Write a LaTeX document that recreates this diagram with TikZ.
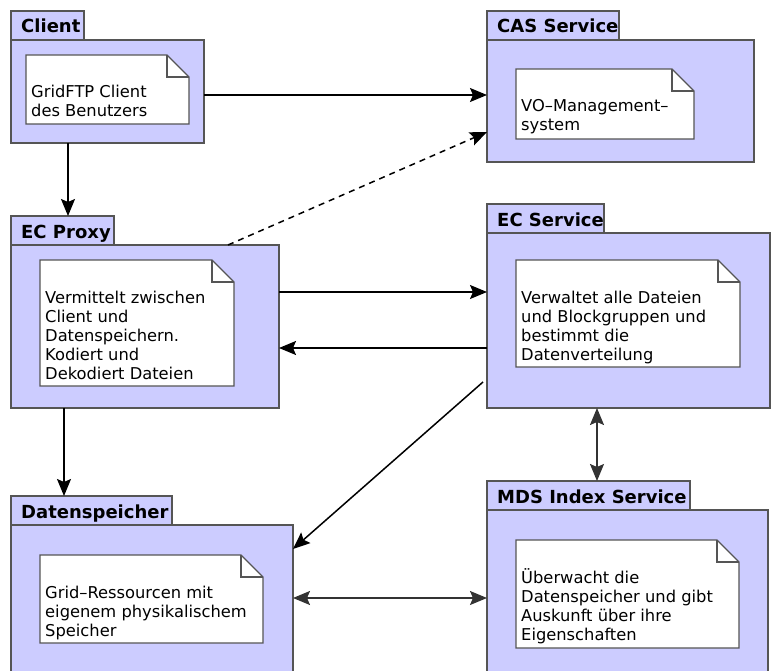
\documentclass[tikz,border=0pt]{standalone}
\usepackage{fontspec}
\setmainfont{DejaVu Sans}
\usetikzlibrary{arrows.meta}

\definecolor{pkgfill}{HTML}{CCCCFF}
\definecolor{edge}{HTML}{555555}

% multi-line note text, baseline on the first line
\newcommand\notelines[1]{{\fontsize{16.3}{19}\selectfont\renewcommand\arraystretch{1}%
  \begin{tabular}[t]{@{}l@{}}#1\end{tabular}}}

% folded-corner outline around a note node
\newcommand\foldnote[1]{%
  \draw[notebox] (#1.north west) -- ([xshift=-22pt]#1.north east)
    -- ([yshift=-22pt]#1.north east) -- (#1.south east) -- (#1.south west) -- cycle;
  \draw[notebox,fill=none] ([xshift=-22pt]#1.north east)
    -- ([xshift=-22pt,yshift=-22pt]#1.north east) -- ([yshift=-22pt]#1.north east);}

\tikzset{
  pkg/.style={draw=edge, fill=pkgfill, line width=1.4pt, inner sep=0pt, outer sep=0pt, anchor=north west},
  notearea/.style={inner sep=0pt, outer sep=0pt, anchor=north west},
  notebox/.style={draw=edge, fill=white, line width=1.3pt},
  pkgtitle/.style={anchor=base west, inner sep=0pt, font=\fontsize{18}{22}\selectfont\bfseries},
  notetext/.style={anchor=base west, inner sep=0pt},
  arr/.style={draw=black, line width=1.5pt, -{Stealth[length=17pt,width=14pt,inset=3pt]}},
  biarr/.style={draw=black!80, line width=1.6pt, {Stealth[length=17pt,width=14pt,inset=3pt]}-{Stealth[length=17pt,width=14pt,inset=3pt]}},
}

\begin{document}
\begin{tikzpicture}[x=1pt,y=-1pt]
\useasboundingbox (0,0) rectangle (771,671);
\clip (0,0) rectangle (771,671);

% ---- packages: tab, body, note ----
% Client
\node[pkg, minimum width=73pt, minimum height=29pt] (clientTab) at (11,11) {};
\node[pkg, minimum width=193pt, minimum height=103pt] (client) at (11,40) {};
\node[notearea, minimum width=163pt, minimum height=69pt] (clientNote) at (26,55) {};
\foldnote{clientNote}
\node[pkgtitle] (clientTitle) at ([xshift=10pt,yshift=-22pt]clientTab.north west) {Client};
\node[notetext] (clientText) at ([xshift=5pt,yshift=-43pt]clientNote.north west)
  {\notelines{GridFTP Client\\des Benutzers}};

% CAS Service
\node[pkg, minimum width=132pt, minimum height=29pt] (casTab) at (487,11) {};
\node[pkg, minimum width=267pt, minimum height=122pt] (cas) at (487,40) {};
\node[notearea, minimum width=178pt, minimum height=70pt] (casNote) at (516,69) {};
\foldnote{casNote}
\node[pkgtitle] (casTitle) at ([xshift=10pt,yshift=-22pt]casTab.north west) {CAS Service};
\node[notetext] (casText) at ([xshift=5pt,yshift=-43pt]casNote.north west)
  {\notelines{VO{\textendash}Management{\textendash}\\system}};

% EC Proxy
\node[pkg, minimum width=103pt, minimum height=29pt] (proxyTab) at (11,216) {};
\node[pkg, minimum width=268pt, minimum height=163pt] (proxy) at (11,245) {};
\node[notearea, minimum width=194pt, minimum height=126pt] (proxyNote) at (40,260) {};
\foldnote{proxyNote}
\node[pkgtitle] (proxyTitle) at ([xshift=10pt,yshift=-22pt]proxyTab.north west) {EC Proxy};
\node[notetext] (proxyText) at ([xshift=5pt,yshift=-43pt]proxyNote.north west)
  {\notelines{Vermittelt zwischen\\Client und\\Datenspeichern.\\Kodiert und\\Dekodiert Dateien}};

% EC Service
\node[pkg, minimum width=117pt, minimum height=29pt] (ecsTab) at (487,204) {};
\node[pkg, minimum width=283pt, minimum height=175pt] (ecs) at (487,233) {};
\node[notearea, minimum width=224pt, minimum height=107pt] (ecsNote) at (516,260) {};
\foldnote{ecsNote}
\node[pkgtitle] (ecsTitle) at ([xshift=10pt,yshift=-22pt]ecsTab.north west) {EC Service};
\node[notetext] (ecsText) at ([xshift=5pt,yshift=-43pt]ecsNote.north west)
  {\notelines{Verwaltet alle Dateien\\und Blockgruppen und\\bestimmt die\\Datenverteilung}};

% MDS Index Service
\node[pkg, minimum width=203pt, minimum height=29pt] (mdsTab) at (487,481) {};
\node[pkg, minimum width=281pt, minimum height=200pt] (mds) at (487,510) {};
\node[notearea, minimum width=223pt, minimum height=108pt] (mdsNote) at (516,540) {};
\foldnote{mdsNote}
\node[pkgtitle] (mdsTitle) at ([xshift=10pt,yshift=-22pt]mdsTab.north west) {MDS Index Service};
\node[notetext] (mdsText) at ([xshift=5pt,yshift=-43pt]mdsNote.north west)
  {\notelines{Überwacht die\\Datenspeicher und gibt\\Auskunft über ihre\\Eigenschaften}};

% Datenspeicher
\node[pkg, minimum width=161pt, minimum height=29pt] (storeTab) at (11,496) {};
\node[pkg, minimum width=282pt, minimum height=200pt] (store) at (11,525) {};
\node[notearea, minimum width=223pt, minimum height=88pt] (storeNote) at (40,555) {};
\foldnote{storeNote}
\node[pkgtitle] (storeTitle) at ([xshift=10pt,yshift=-22pt]storeTab.north west) {Datenspeicher};
\node[notetext] (storeText) at ([xshift=5pt,yshift=-43pt]storeNote.north west)
  {\notelines{Grid{\textendash}Ressourcen mit\\eigenem physikalischem\\Speicher}};

% ---- connectors ----
\draw[arr] (client.east |- 0,95) -- (cas.west |- 0,95);
\draw[arr] (client.south -| 68,0) -- (proxyTab.north -| 68,0);
\draw[arr, dash pattern=on 6pt off 5pt] (proxy.north -| 228,0) -- (cas.west |- 0,132);
\draw[arr] (proxy.east |- 0,292) -- (ecs.west |- 0,292);
\draw[arr] (ecs.west |- 0,348) -- (proxy.east |- 0,348);
\draw[arr] ([xshift=-4pt]ecs.west |- 0,382) -- (store.east |- 0,549);
\draw[arr] (proxy.south -| 64,0) -- (storeTab.north -| 64,0);
\draw[biarr] (ecs.south -| 597,0) -- (mdsTab.north -| 597,0);
\draw[biarr] (store.east |- 0,598) -- (mds.west |- 0,598);
\end{tikzpicture}
\end{document}
